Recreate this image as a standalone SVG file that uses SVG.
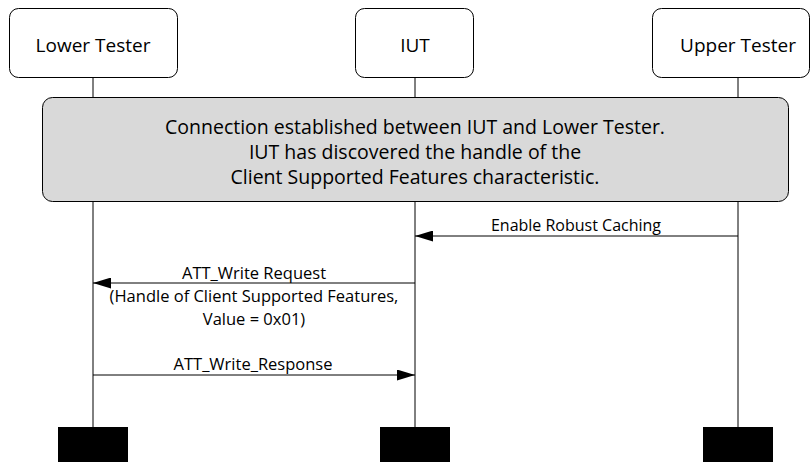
<svg xmlns="http://www.w3.org/2000/svg" width="811" height="462" viewBox="0 0 811 462">
<defs>
<style>
.node{fill:#fff;stroke:#000;stroke-width:1}
.t{font-family:"Open Sans","Liberation Sans",sans-serif;fill:#000;text-anchor:middle}
.life{stroke:#000;stroke-width:1}
.msg{stroke:#000;stroke-width:1;fill:none}
.bar{fill:#000}
</style>
<marker id="ah" viewBox="0 0 18 11" refX="18" refY="5.5" markerWidth="18" markerHeight="11" markerUnits="userSpaceOnUse" orient="auto">
<path d="M0,0 L18,5.5 L0,11 z" fill="#000"/>
</marker>
</defs>
<g id="lifelines">
<line class="life" x1="93" y1="78" x2="93" y2="427"/>
<line class="life" x1="415" y1="78" x2="415" y2="427"/>
<line class="life" x1="738" y1="78" x2="738" y2="427"/>
</g>
<g id="lower-tester">
<rect class="node" x="9.5" y="8.5" width="168" height="69" rx="9"/>
<text class="t" x="93" y="52" font-size="19">Lower Tester</text>
<rect class="bar" x="58" y="427" width="70" height="35"/>
</g>
<g id="iut">
<rect class="node" x="355.5" y="8.5" width="118" height="69" rx="9"/>
<text class="t" x="415" y="52" font-size="19">IUT</text>
<rect class="bar" x="380" y="427" width="70" height="35"/>
</g>
<g id="upper-tester">
<rect class="node" x="652.5" y="8.5" width="157" height="69" rx="9"/>
<text class="t" x="738" y="52" font-size="19">Upper Tester</text>
<rect class="bar" x="703" y="427" width="70" height="35"/>
</g>
<g id="precondition">
<rect x="42.5" y="97.5" width="746" height="104" rx="10" fill="#d9d9d9" stroke="#000" stroke-width="1"/>
<text class="t" x="415" y="134" font-size="19.5">Connection established between IUT and Lower Tester.</text>
<text class="t" x="415" y="159" font-size="19.5">IUT has discovered the handle of the</text>
<text class="t" x="415" y="184" font-size="19.5">Client Supported Features characteristic.</text>
</g>
<g id="connectors">
<line class="msg" x1="738" y1="236" x2="415" y2="236" marker-end="url(#ah)"/>
<text class="t" x="576" y="231" font-size="16">Enable Robust Caching</text>
<line class="msg" x1="415" y1="283" x2="93" y2="283" marker-end="url(#ah)"/>
<text class="t" x="254" y="279" font-size="16.5">ATT_Write Request</text>
<text class="t" x="254" y="302" font-size="16.5">(Handle of Client Supported Features,</text>
<text class="t" x="254" y="325" font-size="16.5">Value = 0x01)</text>
<line class="msg" x1="93" y1="375" x2="415" y2="375" marker-end="url(#ah)"/>
<text class="t" x="253" y="370" font-size="16.5">ATT_Write_Response</text>
</g>
</svg>
